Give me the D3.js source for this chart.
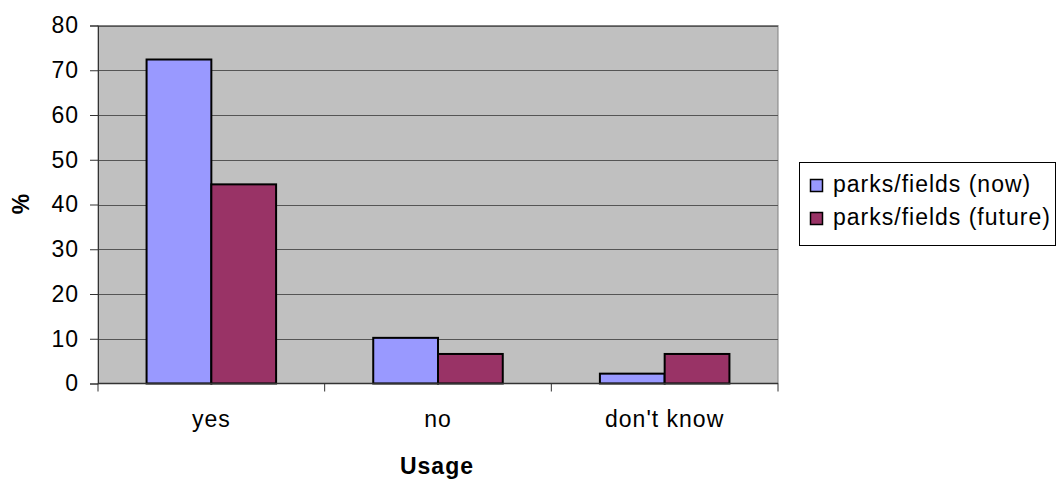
<!DOCTYPE html>
<html>
<head>
<meta charset="utf-8">
<script src="https://cdn.jsdelivr.net/npm/d3@7"></script>
<style>
  html, body { margin: 0; padding: 0; background: #fff; }
  svg text { font-family: "Liberation Sans", Arial, sans-serif; }
</style>
</head>
<body>
<svg id="chart" width="1057" height="480"></svg>
<script>
// Survey answers about using parks/fields, now and in the future (%)
const categories = ["yes", "no", "don't know"];
const seriesNames = ["parks/fields (now)", "parks/fields (future)"];
const nowValues = [72.4, 10.2, 2.2];
const futureValues = [44.5, 6.6, 6.6];
const yTicks = [0, 10, 20, 30, 40, 50, 60, 70, 80];
const seriesColors = ["#9999FF", "#993366"];

const FONT = 23;
const SPACING = "1px";

const svg = d3.select("#chart");
const plot = { left: 98, top: 25.5, right: 778, bottom: 383.5 };

const x = d3.scaleBand().domain(categories).range([plot.left, plot.right]).paddingInner(0).paddingOuter(0);
const x1 = d3.scaleBand().domain([0, 1]).range([0, x.bandwidth()]).paddingInner(0).paddingOuter(0.75);
const y = d3.scaleLinear().domain([0, 80]).range([plot.bottom, plot.top]);

// plot background
svg.append("rect")
  .attr("x", plot.left).attr("y", plot.top)
  .attr("width", plot.right - plot.left).attr("height", plot.bottom - plot.top)
  .attr("fill", "#C0C0C0").attr("stroke", "#808080").attr("stroke-width", 1);

// horizontal gridlines
svg.append("g").selectAll("line")
  .data(yTicks.filter(d => d > 0))
  .join("line")
  .attr("x1", plot.left).attr("x2", plot.right)
  .attr("y1", d => Math.round(y(d)) + 0.5).attr("y2", d => Math.round(y(d)) + 0.5)
  .attr("stroke", "#555").attr("stroke-width", 1);

// bars
const rows = categories.map((c, i) => ({ cat: c, vals: [nowValues[i], futureValues[i]] }));
svg.append("g").selectAll("g")
  .data(rows)
  .join("g")
  .attr("transform", d => `translate(${x(d.cat)},0)`)
  .selectAll("rect")
  .data(d => d.vals.map((v, k) => ({ v, k })))
  .join("rect")
  .attr("x", d => x1(d.k))
  .attr("width", x1.bandwidth())
  .attr("y", d => y(d.v))
  .attr("height", d => y(0) - y(d.v))
  .attr("fill", d => seriesColors[d.k])
  .attr("stroke", "#000").attr("stroke-width", 2);

// y axis
const yAxis = svg.append("g")
  .attr("transform", `translate(${plot.left},0)`)
  .call(d3.axisLeft(y).tickValues(yTicks).tickSize(8).tickPadding(11));
yAxis.select(".domain").attr("stroke", "#333");
yAxis.selectAll(".tick line").attr("stroke", "#333");
yAxis.selectAll("text")
  .attr("font-size", FONT).attr("fill", "#000")
  .attr("font-family", "Liberation Sans, Arial, sans-serif")
  .style("letter-spacing", SPACING);

// x axis with ticks at category boundaries
const xAxisG = svg.append("g").attr("transform", `translate(0,${plot.bottom})`);
xAxisG.append("line").attr("x1", plot.left).attr("x2", plot.right)
  .attr("stroke", "#333").attr("stroke-width", 1.5);
const bounds = categories.map(c => x(c)).concat([plot.right]);
xAxisG.selectAll(".bt").data(bounds).join("line")
  .attr("x1", d => d).attr("x2", d => d).attr("y1", 0).attr("y2", 8)
  .attr("stroke", "#333");
xAxisG.selectAll("text").data(categories).join("text")
  .attr("x", d => x(d) + x.bandwidth() / 2)
  .attr("y", 43.5)
  .attr("text-anchor", "middle")
  .attr("font-size", FONT)
  .style("letter-spacing", SPACING)
  .text(d => d);

// axis titles
svg.append("text")
  .attr("x", 437).attr("y", 474)
  .attr("text-anchor", "middle")
  .attr("font-size", FONT).attr("font-weight", "bold")
  .style("letter-spacing", SPACING)
  .text("Usage");
svg.append("text")
  .attr("transform", "translate(29,204) rotate(-90)")
  .attr("text-anchor", "middle")
  .attr("font-size", FONT).attr("font-weight", "bold")
  .text("%");

// legend
const legend = svg.append("g");
legend.append("rect")
  .attr("x", 799.5).attr("y", 162.5).attr("width", 256).attr("height", 83)
  .attr("fill", "#fff").attr("stroke", "#000").attr("stroke-width", 1);
const items = legend.selectAll("g.item").data(seriesNames).join("g")
  .attr("transform", (d, i) => `translate(810,${179 + i * 33})`);
items.append("rect")
  .attr("x", 0.5).attr("y", 0.5).attr("width", 12).attr("height", 12)
  .attr("fill", (d, i) => seriesColors[i])
  .attr("stroke", "#000").attr("stroke-width", 1.5);
items.append("text")
  .attr("x", 23).attr("y", 13)
  .attr("font-size", FONT)
  .style("letter-spacing", SPACING)
  .text(d => d);
</script>
</body>
</html>
